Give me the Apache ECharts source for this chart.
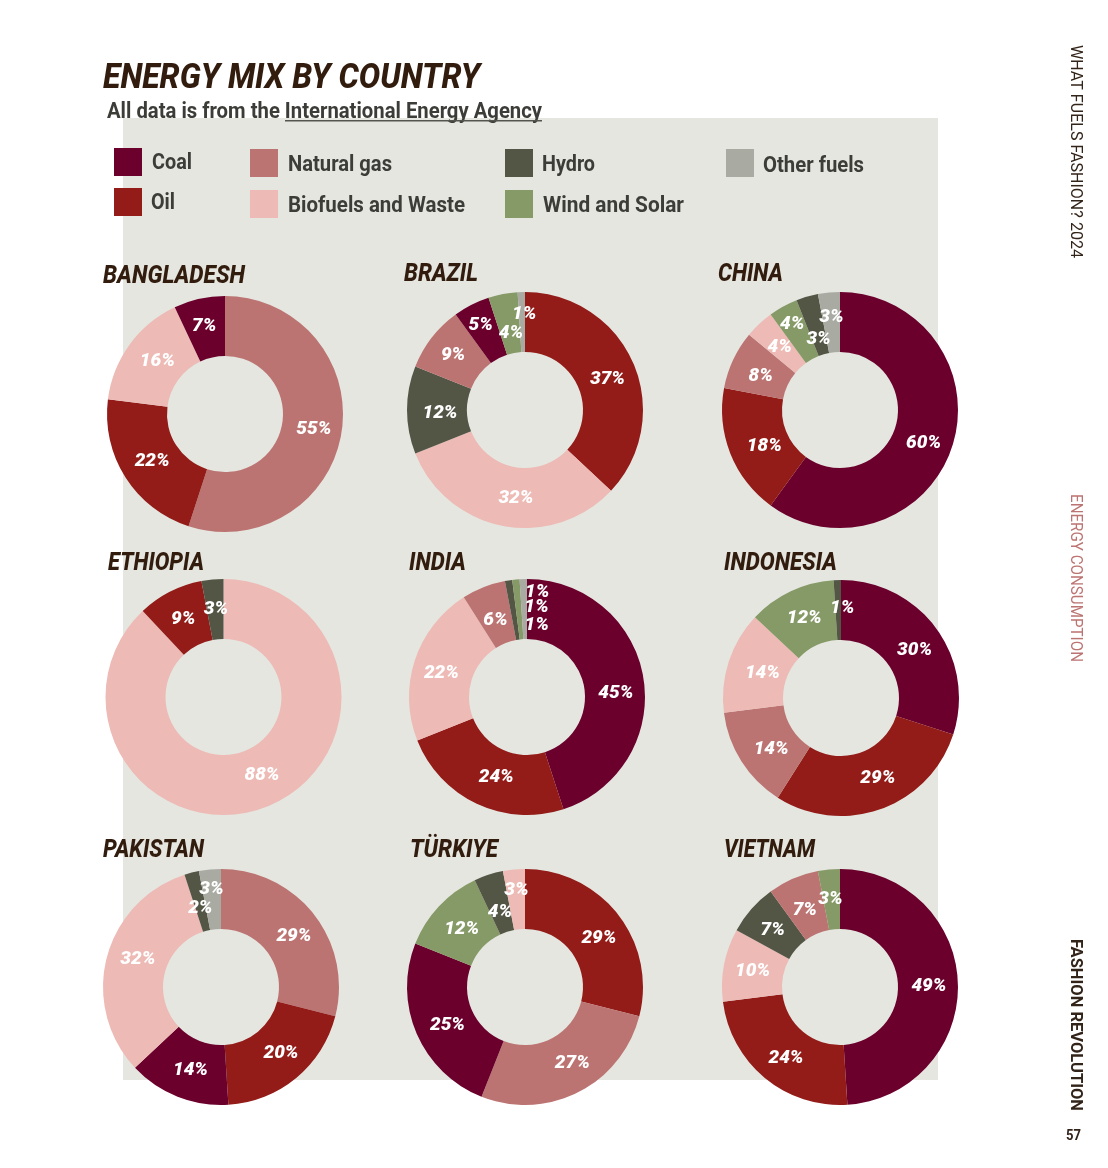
<!DOCTYPE html>
<html><head><meta charset="utf-8">
<style>html,body{margin:0;padding:0;background:#fff}#c{width:1108px;height:1168px}</style>
<script src="https://cdn.jsdelivr.net/npm/echarts@6/dist/echarts.min.js"></script></head>
<body><div id="c"></div>
<script>
const F='Roboto';
const sourceNames=['Coal','Oil','Natural gas','Biofuels and Waste','Hydro','Wind and Solar','Other fuels'];
const sourceColors=['#6b002c','#931b18','#bc7472','#edbab5','#535545','#859a66','#a9aba2'];
const countries=['BANGLADESH','BRAZIL','CHINA','ETHIOPIA','INDIA','INDONESIA','PAKISTAN','TÜRKIYE','VIETNAM'];
const bangladeshSources=['Natural gas','Oil','Biofuels and Waste','Coal'];
const bangladeshValues=[55,22,16,7];
const brazilSources=['Oil','Biofuels and Waste','Hydro','Natural gas','Coal','Wind and Solar','Other fuels'];
const brazilValues=[37,32,12,9,5,4,1];
const chinaSources=['Coal','Oil','Natural gas','Biofuels and Waste','Wind and Solar','Hydro','Other fuels'];
const chinaValues=[60,18,8,4,4,3,3];
const ethiopiaSources=['Biofuels and Waste','Oil','Hydro'];
const ethiopiaValues=[88,9,3];
const indiaSources=['Coal','Oil','Biofuels and Waste','Natural gas','Hydro','Wind and Solar','Other fuels'];
const indiaValues=[45,24,22,6,1,1,1];
const indonesiaSources=['Coal','Oil','Natural gas','Biofuels and Waste','Wind and Solar','Hydro'];
const indonesiaValues=[30,29,14,14,12,1];
const pakistanSources=['Natural gas','Oil','Coal','Biofuels and Waste','Hydro','Other fuels'];
const pakistanValues=[29,20,14,32,2,3];
const turkiyeSources=['Oil','Natural gas','Coal','Wind and Solar','Hydro','Biofuels and Waste'];
const turkiyeValues=[29,27,25,12,4,3];
const vietnamSources=['Coal','Oil','Biofuels and Waste','Hydro','Natural gas','Wind and Solar'];
const vietnamValues=[49,24,10,7,7,3];
const allSources=[bangladeshSources,brazilSources,chinaSources,ethiopiaSources,indiaSources,indonesiaSources,pakistanSources,turkiyeSources,vietnamSources];
const allValues=[bangladeshValues,brazilValues,chinaValues,ethiopiaValues,indiaValues,indonesiaValues,pakistanValues,turkiyeValues,vietnamValues];

// layout, separate from the data
const centers=[[225,414],[525,410],[840,410],[223.5,697],[527,697],[841,698],[221,987],[525,987],[840,987]];
const headLayout=[[103,277,142],[404,275,74],[718,275,65],[108,564,96],[409,564,57],[724,564,113],[103,851,101],[410,851,88],[724,851,91]];
const legendBox=[[114,148],[114,188],[250,149],[250,190],[505,149],[505,190],[726,149]];
const legendText=[[152,163,40],[151,203,24],[288,165,104],[288,206,177],[542,165,53],[543,206,141],[763,166,101]];
const labelNudges=[
 [[-1,1],[4,-2],[6,1],[-1,1]],
 [[-1,5],[8,-1],[6,3],[0,1],[-3,-4],[3,13],[2,-5]],
 [[-3,5],[9,3],[3,5],[2,4],[-4,-6],[4,17],[0,-2]],
 [[5,-6],[1,3],[1,3]],
 [[-1,10],[8,-2],[1,4],[2,8],[24,18],[18,1],[13,-14]],
 [[0,6],[6,-5],[7,2],[8,3],[2,3],[4,1]],
 [[1,5],[2,-4],[3,-1],[5,-5],[2,9],[-1,-7]],
 [[2,7],[6,-5],[6,2],[3,5],[3,12],[0,-6]],
 [[-2,2],[4,1],[2,1],[1,3],[1,7],[-1,3]]
];
const mc=document.createElement('canvas').getContext('2d');
function fitText(text,x,y,w,font,fill,rot){
  mc.font=font;
  const m=mc.measureText(text).width;
  return {type:'text',x,y,rotation:rot||0,scaleX:w/m,silent:true,
    style:{text,fill,font,textAlign:'left',textVerticalAlign:'middle'}};
}
const series=countries.map((c,i)=>({
  type:'pie',name:c,center:centers[i],radius:[58,118],startAngle:90,clockwise:true,
  avoidLabelOverlap:false,animation:false,silent:true,minShowLabelAngle:0,
  labelLine:{show:false},labelLayout:{hideOverlap:false},
  label:{position:'inside',formatter:'{c}%',color:'#fff',fontFamily:F,fontWeight:900,fontStyle:'italic',fontSize:19},
  emphasis:{disabled:true},
  itemStyle:{borderWidth:0},
  data:allSources[i].map((s,j)=>({
    name:s,value:allValues[i][j],
    itemStyle:{color:sourceColors[sourceNames.indexOf(s)]},
    label:{offset:labelNudges[i][j]}
  }))
}));
const sideTexts=[['WHAT FUELS FASHION? 2024',1075,45,213,'#33241a','400 16px Roboto'],['ENERGY CONSUMPTION',1075,494,168,'#bc7472','400 16px Roboto'],['FASHION REVOLUTION',1075,939,172,'#33241a','700 16px Roboto']];
const chart=echarts.init(document.getElementById('c'),null,{renderer:'canvas'});
chart.setOption({
  animation:false,series,
  graphic:[
   {type:'rect',z:-10,silent:true,shape:{x:123,y:118,width:815,height:962},style:{fill:'#e5e6e0'}},
   {type:'rect',silent:true,z:10,shape:{x:285,y:120,width:257,height:1.5},style:{fill:'#55554f'}},
   fitText('ENERGY MIX BY COUNTRY',103,79,377,'italic 800 35px Roboto','#321c0e'),
   fitText('All data is from the International Energy Agency',107,112,435,'700 22px Roboto','#3c3c38'),
   ...countries.map((c,i)=>fitText(c,headLayout[i][0],headLayout[i][1],headLayout[i][2],'italic 800 25px Roboto','#321c0e')),
   ...sourceNames.map((n,i)=>({type:'rect',silent:true,shape:{x:legendBox[i][0],y:legendBox[i][1],width:28,height:28},style:{fill:sourceColors[i]}})),
   ...sourceNames.map((n,i)=>fitText(n,legendText[i][0],legendText[i][1],legendText[i][2],'700 22px Roboto','#3c3c38')),
   ...sideTexts.map(t=>fitText(t[0],t[1],t[2],t[3],t[5],t[4],-Math.PI/2)),
   fitText('57',1066,1136,15,'700 14px Roboto','#33241a')
  ]
});
</script></body></html>
